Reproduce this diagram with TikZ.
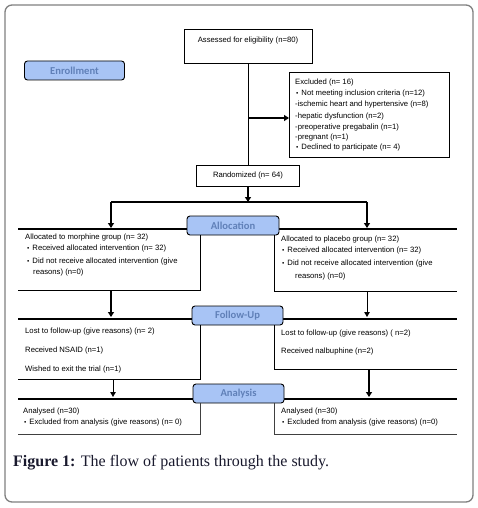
\documentclass[tikz,border=0pt]{standalone}
\usepackage{fontspec}
\setmainfont{Liberation Sans}
\newfontfamily\capfont{Liberation Serif}
\newfontfamily\labfont{Carlito}
\usetikzlibrary{arrows.meta}
\definecolor{labfill}{RGB}{168,196,245}
\definecolor{labtext}{RGB}{96,128,184}
\definecolor{framegray}{RGB}{128,128,128}
\definecolor{capcol}{RGB}{25,25,45}
\newcommand\mybul{{\fontsize{6.5}{6}\selectfont\textbullet}\hspace{3pt}}
\begin{document}
\begin{tikzpicture}[x=1pt,y=-1pt,
  bar/.style={line width=1.8pt},
  edge/.style={line width=0.9pt},
  arr/.style={line width=1.8pt,-{Triangle[length=5pt,width=6pt]}},
  tarr/.style={line width=1pt,-{Triangle[length=5pt,width=5.5pt]}},
  box/.style={draw,line width=0.8pt,inner sep=0pt},
  lab/.style={draw,line width=0.9pt,rounded corners=3pt,fill=labfill,text=labtext,inner sep=0pt,
    minimum height=19pt,font=\labfont\bfseries\fontsize{10.6}{12}\selectfont},
  txt/.style={anchor=west,inner sep=0pt,font=\fontsize{7.7}{9}\selectfont},
]
\useasboundingbox (0,0) rectangle (478,508);
\node[draw=framegray,line width=1.3pt,rounded corners=7pt,minimum width=468pt,minimum height=497pt,inner sep=0pt] (frame) at (239,253.5) {};

% enrollment
\node[lab,minimum width=100pt] (enroll) at (74.5,70.5) {Enrollment};
\node[box,minimum width=128pt,minimum height=34pt] (assess) at (248,46) {};
\node[txt,anchor=center] (assesst) at (248,41) {Assessed for eligibility (n=80)};
\node[box,minimum width=160pt,minimum height=85pt] (excl) at (369,114.5) {};
\node[txt] (ex1) at (295,83) {Excluded (n= 16)};
\node[txt] (ex2) at (296,94) {\mybul Not meeting inclusion criteria (n=12)};
\node[txt] (ex3) at (295,105) {-ischemic heart and hypertensive (n=8)};
\node[txt] (ex4) at (295,117) {-hepatic dysfunction (n=2)};
\node[txt] (ex5) at (295,128) {-preoperative pregabalin (n=1)};
\node[txt] (ex6) at (295,138) {-pregnant (n=1)};
\node[txt] (ex7) at (296,148) {\mybul Declined to participate (n= 4)};
\node[box,minimum width=103pt,minimum height=21pt] (rand) at (248,175.5) {};
\node[txt,anchor=center] (randt) at (248,175.5) {Randomized (n= 64)};

\coordinate (ex) at (289,118);
\draw[edge] (assess.south) -- (assess.south |- rand.north);
\draw[arr] (assess.south |- ex) -- (ex);

% allocation
\coordinate (sL) at (111,202);
\coordinate (sR) at (367,202);
\coordinate (aL) at (111,228);
\coordinate (aR) at (367,228);
\draw[arr] (rand.south) -- (rand.south |- sL);
\draw[bar] (sL) -- (sR);
\draw[arr] (sL) -- (aL);
\draw[arr] (sR) -- (aR);
\coordinate (d1a) at (18,229);
\coordinate (d1b) at (457,229);
\draw[bar] (d1a) -- (d1b);
\node[lab,minimum width=92pt] (alloc) at (233,225.5) {Allocation};
\coordinate (lb1) at (200,290);
\coordinate (lb2) at (18,290);
\coordinate (rb1) at (274,291);
\coordinate (rb2) at (457,291);
\draw[edge] (alloc.south -| lb1) -- (lb1) -- (lb2);
\draw[edge] (alloc.south -| rb1) -- (rb1) -- (rb2);
\node[txt] (al1) at (25,238) {Allocated to morphine group (n= 32)};
\node[txt] (al2) at (27,249) {\mybul Received allocated intervention (n= 32)};
\node[txt] (al3) at (27,262) {\mybul Did not receive allocated intervention (give};
\node[txt] (al4) at (33,273) {reasons) (n=0)};
\node[txt] (ar1) at (281,240) {Allocated to placebo group (n= 32)};
\node[txt] (ar2) at (282,251) {\mybul Received allocated intervention (n= 32)};
\node[txt] (ar3) at (282,264) {\mybul Did not receive allocated intervention (give};
\node[txt] (ar4) at (295,277) {reasons) (n=0)};

% follow-up
\coordinate (fL0) at (111,290);
\coordinate (fL1) at (111,317);
\coordinate (fR0) at (367,291);
\coordinate (fR1) at (367,317);
\draw[arr] (fL0) -- (fL1);
\draw[tarr] (fR0) -- (fR1);
\coordinate (d2a) at (18,319);
\coordinate (d2b) at (457,319);
\draw[bar] (d2a) -- (d2b);
\node[lab,minimum width=91pt] (follow) at (237.5,315.5) {Follow-Up};
\coordinate (lf1) at (200,379);
\coordinate (lf2) at (18,379);
\coordinate (rf1) at (274,369);
\coordinate (rf2) at (457,369);
\draw[edge] (follow.south -| lf1) -- (lf1) -- (lf2);
\draw[edge] (follow.south -| rf1) -- (rf1) -- (rf2);
\node[txt] (fl1) at (25,332) {Lost to follow-up (give reasons) (n= 2)};
\node[txt] (fl2) at (25,351) {Received NSAID (n=1)};
\node[txt] (fl3) at (25,370) {Wished to exit the trial (n=1)};
\node[txt] (fr1) at (281,334) {Lost to follow-up (give reasons) ( n=2)};
\node[txt] (fr2) at (281,352) {Received nalbuphine (n=2)};

% analysis
\coordinate (nL0) at (113,379);
\coordinate (nL1) at (113,397);
\coordinate (nR0) at (369,369);
\coordinate (nR1) at (369,397);
\draw[tarr] (nL0) -- (nL1);
\draw[arr] (nR0) -- (nR1);
\coordinate (d3a) at (18,399);
\coordinate (d3b) at (457,399);
\draw[bar] (d3a) -- (d3b);
\node[lab,minimum width=91pt] (anal) at (238.5,393.5) {Analysis};
\coordinate (la1) at (200,434);
\coordinate (la2) at (18,434);
\coordinate (ra1) at (274,434);
\coordinate (ra2) at (457,434);
\draw[edge,black!75] (anal.south -| la1) -- (la1) -- (la2);
\draw[edge,black!75] (anal.south -| ra1) -- (ra1) -- (ra2);
\node[txt] (nl1) at (23,412) {Analysed (n=30)};
\node[txt] (nl2) at (24,423) {\mybul Excluded from analysis (give reasons) (n= 0)};
\node[txt] (nr1) at (281,412) {Analysed (n=30)};
\node[txt] (nr2) at (282,423) {\mybul Excluded from analysis (give reasons) (n=0)};

\node[anchor=west,inner sep=0pt,text=capcol,font=\capfont\fontsize{16}{18}\selectfont] (cap) at (13,463)
  {\textbf{Figure 1:} The flow of patients through the study.};
\end{tikzpicture}
\end{document}
